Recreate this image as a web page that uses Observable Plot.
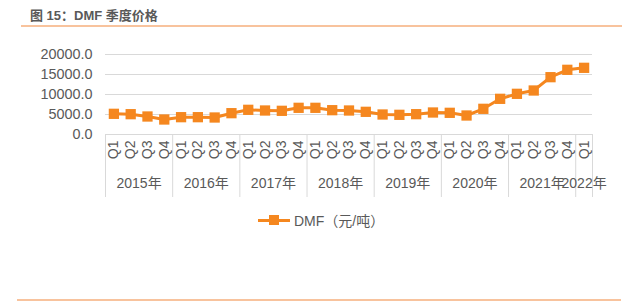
<!DOCTYPE html>
<html>
<head>
<meta charset="utf-8">
<script src="https://cdn.jsdelivr.net/npm/d3@7"></script>
<script src="https://cdn.jsdelivr.net/npm/@observablehq/plot@0.6"></script>
<style>
  html, body { margin: 0; padding: 0; background: #fff; }
  body { width: 624px; height: 302px; position: relative; overflow: hidden;
         font-family: "Liberation Sans", Arial, "Noto Sans CJK SC", sans-serif; color: #595959; }
  #title { position: absolute; left: 30px; top: 5px; font-size: 13px; font-weight: bold; color: #595959;
           font-family: "Liberation Sans", Arial, "Noto Sans CJK SC", sans-serif; }
  #topline { position: absolute; left: 21px; top: 25px; width: 601px; height: 1.5px; background: #F8C39D; }
  #chart { position: absolute; left: 0; top: 30px; }
  #legend { position: absolute; left: 258px; top: 210px; height: 20px; display: flex; align-items: center;
            font-size: 14px; color: #595959; }
  #legend .sw { position: relative; width: 32px; height: 20px; margin-right: 4px; }
  #legend .sw .ln { position: absolute; left: 0; top: 9px; width: 32px; height: 3px; background: #F5871F; }
  #legend .sw .mk { position: absolute; left: 11px; top: 5px; width: 10px; height: 10px; background: #F5871F; }
  #bottomline { position: absolute; left: 17px; top: 299px; width: 604px; height: 2px; background: #F8C39D; }
</style>
</head>
<body>
<div id="title">图 15：DMF 季度价格</div>
<div id="topline"></div>
<div id="chart"></div>
<div id="legend"><div class="sw"><div class="ln"></div><div class="mk"></div></div><span>DMF（元/吨）</span></div>
<div id="bottomline"></div>
<script>
// Data
const years = ["2015年", "2016年", "2017年", "2018年", "2019年", "2020年", "2021年", "2022年"];
const quartersPerYear = [4, 4, 4, 4, 4, 4, 4, 1];
const quarterLabels = ["Q1", "Q2", "Q3", "Q4"];
const prices = [
  5170, 5080, 4500, 3750,
  4330, 4330, 4250, 5330,
  6170, 6000, 5920, 6670,
  6670, 6080, 6000, 5670,
  5000, 4920, 5080, 5500,
  5420, 4750, 6420, 8920,
  10170, 11000, 14330, 16170,
  16670
];
const yTicks = [0, 5000, 10000, 15000, 20000];

// Build table
const rows = [];
const yearCenters = [];
const boundaries = [];
let idx = 0;
years.forEach((yr, k) => {
  boundaries.push(idx - 0.5);
  yearCenters.push({x: idx + (quartersPerYear[k] - 1) / 2, label: yr});
  for (let q = 0; q < quartersPerYear[k]; q++) {
    rows.push({i: idx, q: quarterLabels[q], year: yr, value: prices[idx]});
    idx++;
  }
});
boundaries.push(idx - 0.5);
const qByIndex = new Map(rows.map(r => [r.i, r.q]));
const yearByCenter = new Map(yearCenters.map(d => [d.x, d.label]));

const orange = "#F5871F";
const chart = Plot.plot({
  width: 624,
  height: 175,
  marginTop: 24,
  marginBottom: 71,
  marginLeft: 105,
  marginRight: 32,
  style: {fontFamily: "'Liberation Sans', Arial, 'Noto Sans CJK SC', sans-serif", fontSize: "14px", color: "#595959", background: "transparent"},
  x: {type: "linear", domain: [-0.5, rows.length - 0.5]},
  y: {domain: [0, 20000]},
  marks: [
    Plot.gridY(yTicks, {stroke: "#d9d9d9", strokeOpacity: 1, strokeWidth: 1}),
    Plot.axisY(yTicks, {tickSize: 0, tickPadding: 13, tickFormat: d3.format(".1f"), fontSize: 14.4, fill: "#595959", label: null}),
    Plot.axisX(boundaries, {tickSize: 63, stroke: "#d9d9d9", strokeOpacity: 1, tickFormat: () => "", label: null}),
    Plot.axisX(rows.map(r => r.i), {tickSize: 0, tickPadding: 6, tickRotate: -90, tickFormat: i => qByIndex.get(i), fontSize: 14, fill: "#595959", label: null}),
    Plot.axisX(yearCenters.map(d => d.x), {tickSize: 0, tickPadding: 44, tickFormat: x => yearByCenter.get(x), fontSize: 14, fill: "#595959", label: null}),
    Plot.line(rows, {x: "i", y: "value", stroke: orange, strokeWidth: 3}),
    Plot.dot(rows, {x: "i", y: "value", symbol: "square", r: 5.8, fill: orange, stroke: "none"})
  ]
});
document.getElementById("chart").appendChild(chart);
</script>
</body>
</html>
